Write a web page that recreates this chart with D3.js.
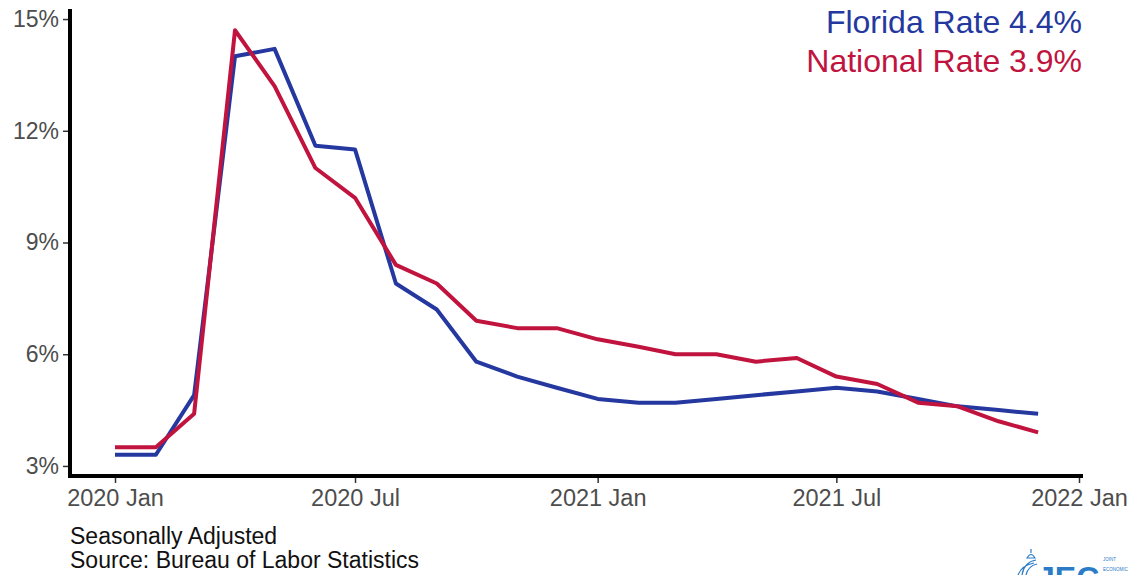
<!DOCTYPE html>
<html>
<head>
<meta charset="utf-8">
<script src="https://cdn.jsdelivr.net/npm/d3@7"></script>
<style>
html,body{margin:0;padding:0;background:#fff;}
svg{display:block;font-family:"Liberation Sans",Arial,sans-serif;}
</style>
</head>
<body>
<svg id="chart" width="1133" height="575"></svg>
<script>
const months = ["2020-01","2020-02","2020-03","2020-04","2020-05","2020-06","2020-07","2020-08","2020-09","2020-10","2020-11","2020-12",
                "2021-01","2021-02","2021-03","2021-04","2021-05","2021-06","2021-07","2021-08","2021-09","2021-10","2021-11","2021-12"];
const floridaRate  = [3.3,3.3,4.9,14.0,14.2,11.6,11.5,7.9,7.2,5.8,5.4,5.1,4.8,4.7,4.7,4.8,4.9,5.0,5.1,5.0,4.8,4.6,4.5,4.4];
const nationalRate = [3.5,3.5,4.4,14.7,13.2,11.0,10.2,8.4,7.9,6.9,6.7,6.7,6.4,6.2,6.0,6.0,5.8,5.9,5.4,5.2,4.7,4.6,4.2,3.9];
const yTicks = [3,6,9,12,15];
const legendLabels = ["Florida Rate 4.4%","National Rate 3.9%"];
const captionLines = ["Seasonally Adjusted","Source: Bureau of Labor Statistics"];

const parse = d3.timeParse("%Y-%m");
const dates = months.map(parse);
const blue = "#2438a0", red = "#c0143f";

const svg = d3.select("#chart");
const x = d3.scaleTime().domain([new Date(2020,0,1), new Date(2022,0,1)]).range([115,1079]);
const y = d3.scaleLinear().domain([2.73,15.27]).range([476,9]);
const xLeft = 70, xRight = 1083, yBottom = 476, yTop = 9;

// axis lines
svg.append("line").attr("x1",xLeft).attr("x2",xLeft).attr("y1",yTop).attr("y2",yBottom+2)
  .attr("stroke","#000").attr("stroke-width",4);
svg.append("line").attr("x1",xLeft-2).attr("x2",xRight).attr("y1",yBottom).attr("y2",yBottom)
  .attr("stroke","#000").attr("stroke-width",4);

// y axis
const yAxis = d3.axisLeft(y).tickValues(yTicks).tickFormat(d=>d+"%").tickSize(5).tickPadding(4);
const gy = svg.append("g").attr("transform",`translate(${xLeft-2},0)`).call(yAxis);
gy.select(".domain").remove();
gy.selectAll(".tick line").attr("stroke","#333").attr("stroke-width",1.5);
gy.selectAll(".tick text").attr("fill","#4d4d4d").style("font-size","23px").style("font-family","'Liberation Sans',Arial,sans-serif");

// x axis
const xAxis = d3.axisBottom(x).ticks(d3.timeMonth.every(6)).tickFormat(d3.timeFormat("%Y %b")).tickSize(5).tickPadding(6);
const gx = svg.append("g").attr("transform",`translate(0,${yBottom+2})`).call(xAxis);
gx.select(".domain").remove();
gx.selectAll(".tick line").attr("stroke","#333").attr("stroke-width",1.5);
gx.selectAll(".tick text").attr("fill","#4d4d4d").style("font-size","23.5px").style("font-family","'Liberation Sans',Arial,sans-serif");

// lines
const line = d3.line().x((d,i)=>x(dates[i])).y(d=>y(d));
svg.append("path").datum(floridaRate).attr("d",line).attr("fill","none")
  .attr("stroke",blue).attr("stroke-width",4).attr("stroke-linejoin","round");
svg.append("path").datum(nationalRate).attr("d",line).attr("fill","none")
  .attr("stroke",red).attr("stroke-width",4).attr("stroke-linejoin","round");

// legend
svg.append("text").attr("x",1082).attr("y",33).attr("text-anchor","end")
  .attr("fill",blue).style("font-size","32px").text(legendLabels[0]);
svg.append("text").attr("x",1082).attr("y",72).attr("text-anchor","end")
  .attr("fill",red).style("font-size","32px").text(legendLabels[1]);

// caption
svg.selectAll("text.cap").data(captionLines).enter().append("text").attr("class","cap")
  .attr("x",70).attr("y",(d,i)=>544+i*24).attr("fill","#111").style("font-size","23px").text(d=>d);

// logo (partially visible)
const logo = svg.append("g").attr("fill","#2a7cc6").attr("stroke","#2a7cc6");
logo.append("path").attr("d","M1031,549 L1031,553 M1027,558 Q1031,551 1035,558 Z").attr("stroke-width",1.2).attr("fill","none");
logo.append("path").attr("d","M1022,575 Q1024,562 1036,560 M1018,575 Q1022,565 1034,563 M1026,575 Q1028,566 1037,564")
  .attr("fill","none").attr("stroke-width",1.2);
logo.append("text").attr("x",1037).attr("y",589).attr("stroke","none").style("font-size","32px").style("font-weight","bold").text("JEC");
logo.append("text").attr("x",1103).attr("y",561).attr("stroke","none").style("font-size","4.5px").text("JOINT");
logo.append("text").attr("x",1103).attr("y",571).attr("stroke","none").style("font-size","4.5px").text("ECONOMIC");
</script>
</body>
</html>
